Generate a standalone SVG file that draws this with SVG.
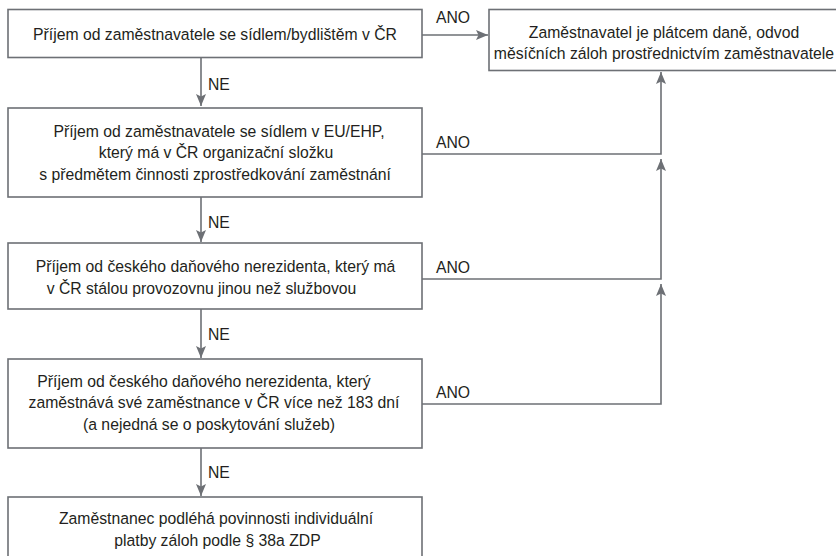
<svg xmlns="http://www.w3.org/2000/svg" width="836" height="556" viewBox="0 0 836 556">
<defs>
<marker id="ah" viewBox="0 0 12 10" refX="12" refY="5" markerWidth="12" markerHeight="10" markerUnits="userSpaceOnUse" orient="auto">
<path d="M0,0 L12,5 L0,10 L2.5,5 Z" fill="#6d7075"/>
</marker>
<style>
.box{fill:#fff;stroke:#6d7075;stroke-width:1.6}
.t{font-family:"Liberation Sans",Arial,sans-serif;font-size:16.8px;fill:#231f20;text-anchor:middle}
.lbl{font-family:"Liberation Sans",Arial,sans-serif;font-size:16.8px;fill:#231f20}
.c{fill:none;stroke:#6d7075;stroke-width:1.6}
</style>
</defs>
<rect width="836" height="556" fill="#fff"/>
<g id="connectors">
<path class="c" d="M201,58 V106" marker-end="url(#ah)"/>
<path class="c" d="M201,197 V242" marker-end="url(#ah)"/>
<path class="c" d="M201,309 V358" marker-end="url(#ah)"/>
<path class="c" d="M201,448 V496" marker-end="url(#ah)"/>
<path class="c" d="M422,35 H488" marker-end="url(#ah)"/>
<path class="c" d="M422,154 H661 V72" marker-end="url(#ah)"/>
<path class="c" d="M422,279 H661 V159" marker-end="url(#ah)"/>
<path class="c" d="M422,404 H661 V284" marker-end="url(#ah)"/>
<text class="lbl" transform="scale(0.938 1)" x="221.75" y="90">NE</text>
<text class="lbl" transform="scale(0.938 1)" x="221.75" y="228">NE</text>
<text class="lbl" transform="scale(0.938 1)" x="221.75" y="340">NE</text>
<text class="lbl" transform="scale(0.938 1)" x="221.75" y="478">NE</text>
<text class="lbl" transform="scale(0.938 1)" x="464.8" y="23">ANO</text>
<text class="lbl" transform="scale(0.938 1)" x="464.8" y="148">ANO</text>
<text class="lbl" transform="scale(0.938 1)" x="464.8" y="273">ANO</text>
<text class="lbl" transform="scale(0.938 1)" x="464.8" y="398">ANO</text>
</g>
<g id="n1">
<rect class="box" x="8" y="9.5" width="414" height="48"/>
<text class="t" transform="scale(0.938 1)" x="229.21" y="40">Příjem od zaměstnavatele se sídlem/bydlištěm v ČR</text>
</g>
<g id="result">
<rect class="box" x="489" y="9.5" width="352" height="61"/>
<text class="t" transform="scale(0.938 1)" x="707.9" y="38">Zaměstnavatel je plátcem daně, odvod</text>
<text class="t" transform="scale(0.938 1)" x="707.9" y="59">měsíčních záloh prostřednictvím zaměstnavatele</text>
</g>
<g id="n2">
<rect class="box" x="8" y="108" width="414" height="89"/>
<text class="t" transform="scale(0.938 1)" x="233.48" y="137">Příjem od zaměstnavatele se sídlem v EU/EHP,</text>
<text class="t" transform="scale(0.938 1)" x="230.28" y="158.5">který má v ČR organizační složku</text>
<text class="t" transform="scale(0.938 1)" x="229.21" y="180">s předmětem činnosti zprostředkování zaměstnání</text>
</g>
<g id="n3">
<rect class="box" x="8" y="243" width="414" height="66"/>
<text class="t" transform="scale(0.938 1)" x="229.74" y="272.5">Příjem od českého daňového nerezidenta, který má</text>
<text class="t" transform="scale(0.938 1)" x="214.82" y="294">v ČR stálou provozovnu jinou než službovou</text>
</g>
<g id="n4">
<rect class="box" x="8" y="359" width="414" height="89"/>
<text class="t" transform="scale(0.938 1)" x="217.48" y="387">Příjem od českého daňového nerezidenta, který</text>
<text class="t" transform="scale(0.938 1)" x="228.14" y="408.5">zaměstnává své zaměstnance v ČR více než 183 dní</text>
<text class="t" transform="scale(0.938 1)" x="222.81" y="430">(a nejedná se o poskytování služeb)</text>
</g>
<g id="n5">
<rect class="box" x="8" y="497" width="414" height="70"/>
<text class="t" transform="scale(0.938 1)" x="230.28" y="524.5">Zaměstnanec podléhá povinnosti individuální</text>
<text class="t" transform="scale(0.938 1)" x="231.88" y="546">platby záloh podle § 38a ZDP</text>
</g>
</svg>
